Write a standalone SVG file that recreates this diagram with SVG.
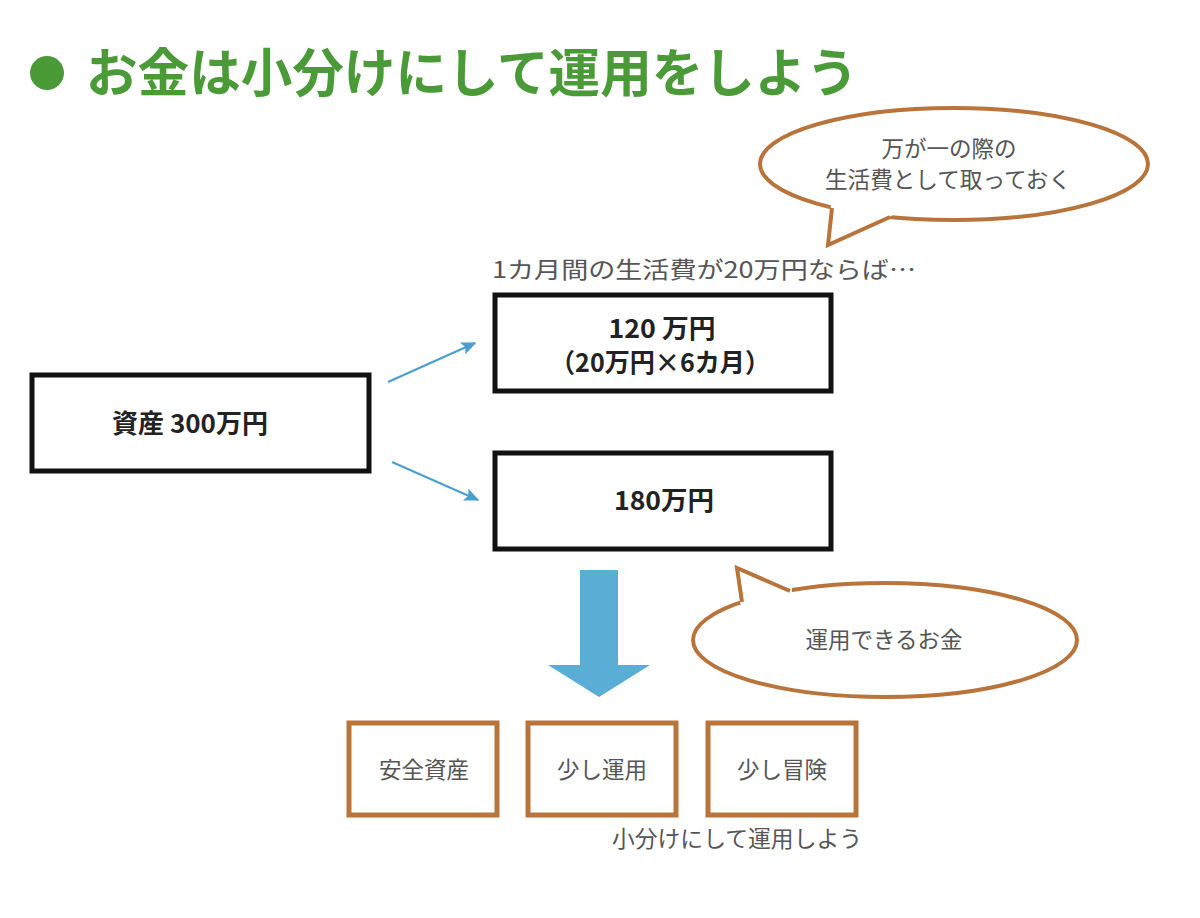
<svg xmlns="http://www.w3.org/2000/svg" width="1200" height="918" viewBox="0 0 1200 918">
<defs>
<style>
.t{font-family:"Noto Sans CJK JP","Noto Sans",sans-serif;}
.title{font-size:52px;font-weight:700;fill:#4a9a38;}
.g{font-size:22.5px;fill:#555;}
.b{font-size:26px;font-weight:700;fill:#222;}
.box{fill:#fff;stroke:#111;stroke-width:5;}
.obox{fill:#fff;stroke:#b8743a;stroke-width:5;}
.bub{fill:#fff;stroke:#b8743a;stroke-width:4;}
.tail{fill:none;stroke:#b8743a;stroke-width:4;stroke-linejoin:miter;}
.con{stroke:#4a9fd0;stroke-width:2.2;fill:none;}
</style>
<marker id="ah" viewBox="0 0 10 10" refX="9" refY="5" markerWidth="15" markerHeight="13" markerUnits="userSpaceOnUse" orient="auto" preserveAspectRatio="none"><path d="M0,0 L10,5 L0,10 L2,5 Z" fill="#4a9fd0"/></marker>
</defs>
<rect width="1200" height="918" fill="#fff"/>
<g id="title">
<circle cx="47" cy="73" r="17" fill="#4a9a38"/>
<text class="t title" x="86" y="92" textLength="772" lengthAdjust="spacingAndGlyphs">お金は小分けにして運用をしよう</text>
</g>
<g id="bubble1">
<ellipse class="bub" cx="954" cy="164" rx="194" ry="56"/>
<polygon points="831,204 828,245 893,215 875,206" fill="#fff"/>
<polyline class="tail" points="832,208 828,245 890,217"/>
<text class="t g" x="949" y="157" text-anchor="middle">万が一の際の</text>
<text class="t g" x="948" y="188" text-anchor="middle" textLength="246" lengthAdjust="spacingAndGlyphs">生活費として取っておく</text>
</g>
<g id="note1">
<text class="t g" x="492" y="278" font-size="23" textLength="424" lengthAdjust="spacingAndGlyphs">1カ月間の生活費が20万円ならば…</text>
</g>
<g id="asset">
<rect class="box" x="32" y="375" width="337" height="96"/>
<text class="t b" x="190" y="433" text-anchor="middle" textLength="156" lengthAdjust="spacingAndGlyphs">資産 300万円</text>
</g>
<g id="reserve">
<rect class="box" x="495" y="295" width="336" height="96"/>
<text class="t b" x="662" y="338" text-anchor="middle" textLength="107" lengthAdjust="spacingAndGlyphs">120 万円</text>
<text class="t b" x="660" y="372" text-anchor="middle" textLength="220" lengthAdjust="spacingAndGlyphs">（20万円×6カ月）</text>
</g>
<g id="invest">
<rect class="box" x="495" y="453" width="336" height="96"/>
<text class="t b" x="664" y="510" text-anchor="middle" textLength="100" lengthAdjust="spacingAndGlyphs">180万円</text>
</g>
<g id="connectors">
<line class="con" x1="388" y1="382" x2="475" y2="343" marker-end="url(#ah)"/>
<line class="con" x1="392" y1="462" x2="478" y2="500" marker-end="url(#ah)"/>
<path d="M580,570 L618,570 L618,665 L650,665 L599,697 L548,665 L580,665 Z" fill="#5aaed6"/>
</g>
<g id="bubble2">
<ellipse class="bub" cx="885" cy="640" rx="192" ry="57"/>
<polygon points="740,603 737,568 792,588 792,597 744,608" fill="#fff"/>
<polyline class="tail" points="742,602 737,568 790,591"/>
<text class="t g" x="884" y="648" text-anchor="middle">運用できるお金</text>
</g>
<g id="safe">
<rect class="obox" x="349" y="723" width="148" height="92"/>
<text class="t g" x="424" y="778" text-anchor="middle" font-size="23">安全資産</text>
</g>
<g id="some">
<rect class="obox" x="528" y="723" width="148" height="92"/>
<text class="t g" x="602" y="778" text-anchor="middle" font-size="23">少し運用</text>
</g>
<g id="risk">
<rect class="obox" x="708" y="723" width="148" height="92"/>
<text class="t g" x="782" y="778" text-anchor="middle" font-size="23">少し冒険</text>
</g>
<g id="note2">
<text class="t g" x="862" y="847" text-anchor="end" font-size="23" textLength="250" lengthAdjust="spacingAndGlyphs">小分けにして運用しよう</text>
</g>
</svg>
